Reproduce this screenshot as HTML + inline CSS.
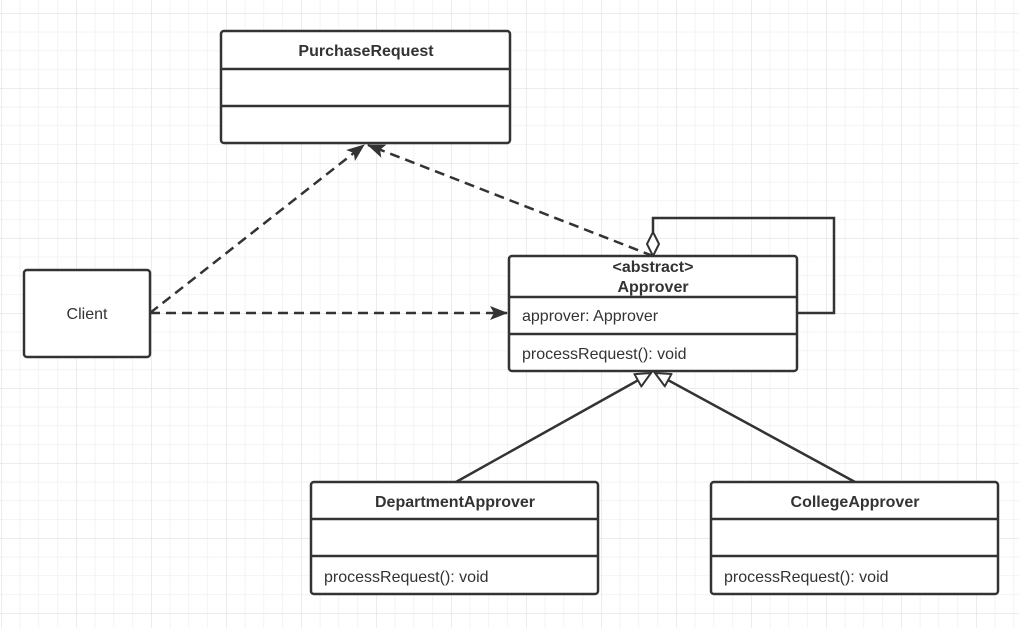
<!DOCTYPE html>
<html><head><meta charset="utf-8"><style>
html,body{margin:0;padding:0;background:#fff;}
svg{display:block;}
text{font-family:"Liberation Sans","Noto Sans CJK SC",sans-serif;fill:#333;}
</style></head><body>
<svg width="1019" height="628" xmlns="http://www.w3.org/2000/svg">
<defs>
<pattern id="g" x="1" y="13" width="18.75" height="18.75" patternUnits="userSpaceOnUse">
<path d="M0 0H18.75M0 0V18.75" stroke="#ededed" stroke-width="1.2" fill="none"/>
</pattern>
<pattern id="G" x="1" y="13" width="75" height="75" patternUnits="userSpaceOnUse">
<path d="M0 0H75M0 0V75" stroke="#e2e2e2" stroke-width="1.2" fill="none"/>
</pattern>
<marker id="fa" markerWidth="18" markerHeight="14" refX="17" refY="7" orient="auto" markerUnits="userSpaceOnUse">
<path d="M0 0L18 7L0 14L4 7Z" fill="#333"/>
</marker>
<marker id="ha" markerWidth="18" markerHeight="16" refX="16" refY="8" orient="auto" markerUnits="userSpaceOnUse">
<path d="M1 1L16 8L1 15Z" fill="#fff" stroke="#333" stroke-width="2"/>
</marker>
</defs>
<rect width="1019" height="628" fill="url(#g)"/>
<rect width="1019" height="628" fill="url(#G)"/>
<g stroke="#333" stroke-width="2.5" fill="none">
<path d="M150 313L364 145" stroke-dasharray="10 6" marker-end="url(#fa)"/>
<path d="M150 313L507 313" stroke-dasharray="10 6" marker-end="url(#fa)"/>
<path d="M653 256L368 145" stroke-dasharray="10 6" marker-end="url(#fa)"/>
<path d="M653 232V218H834V313H797"/>
<path d="M456 482L651 373" marker-end="url(#ha)"/>
<path d="M855 482L655 373" marker-end="url(#ha)"/>
</g>
<path d="M653 256L647 244L653 232L659 244Z" fill="#fff" stroke="#333" stroke-width="2"/>
<g fill="#fff" stroke="#333" stroke-width="2.5">
<rect x="221" y="31" width="289" height="112" rx="3"/>
<rect x="24" y="270" width="126" height="87" rx="3"/>
<rect x="509" y="256" width="288" height="115" rx="3"/>
<rect x="311" y="482" width="287" height="112" rx="3"/>
<rect x="711" y="482" width="287" height="112" rx="3"/>
<path d="M221 69H510M221 106H510M509 297H797M509 334H797M311 519H598M311 556H598M711 519H998M711 556H998" fill="none"/>
</g>
<g font-size="16">
<text x="366" y="56" text-anchor="middle" font-weight="bold">PurchaseRequest</text>
<text x="87" y="319" text-anchor="middle">Client</text>
<text x="653" y="272" text-anchor="middle" font-weight="bold">&lt;abstract&gt;</text>
<text x="653" y="292" text-anchor="middle" font-weight="bold">Approver</text>
<text x="522" y="321">approver: Approver</text>
<text x="522" y="359">processRequest(): void</text>
<text x="455" y="507" text-anchor="middle" font-weight="bold">DepartmentApprover</text>
<text x="324" y="582">processRequest(): void</text>
<text x="855" y="507" text-anchor="middle" font-weight="bold">CollegeApprover</text>
<text x="724" y="582">processRequest(): void</text>
</g>
</svg>
</body></html>
